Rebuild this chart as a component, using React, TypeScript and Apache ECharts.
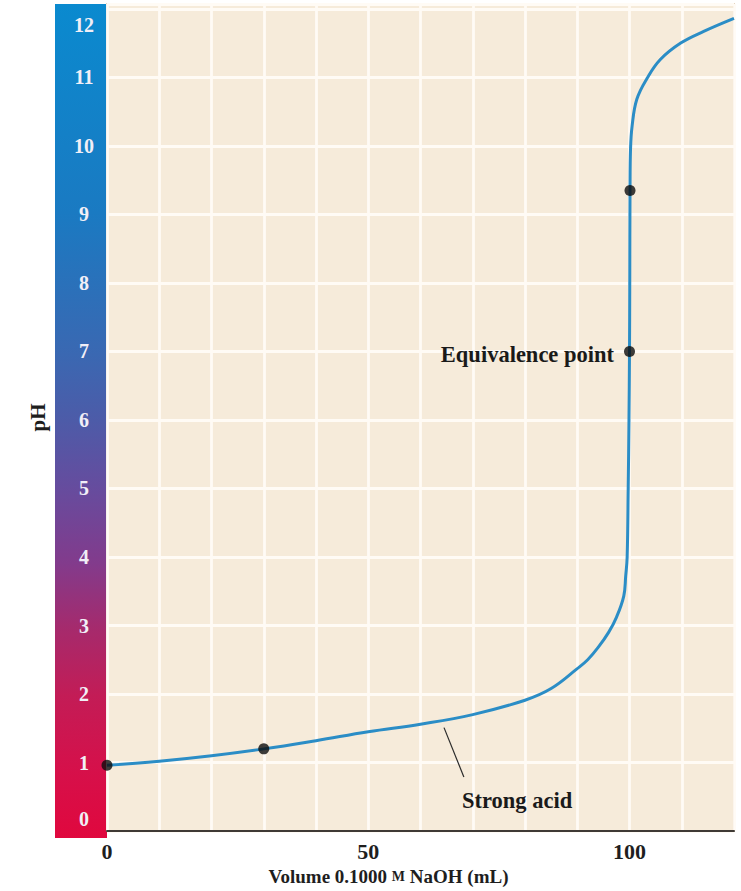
import React, { useEffect, useRef } from "react";
import * as echarts from "echarts";

// ---- Data ----
const volumeML = [0, 10, 20, 30, 40, 50, 60, 70, 80, 85, 90, 92, 94, 96, 97.5, 98.9, 99.27, 99.55, 99.75, 99.9, 100, 100.05, 100.1, 100.2, 100.5, 101.4, 103.4, 105.9, 109.8, 114.2, 120];
const pHValues = [0.96, 1.02, 1.1, 1.2, 1.32, 1.45, 1.56, 1.7, 1.91, 2.08, 2.37, 2.5, 2.68, 2.9, 3.12, 3.43, 3.72, 4.0, 5.0, 6.0, 7.0, 8.0, 9.35, 9.96, 10.29, 10.68, 10.99, 11.26, 11.5, 11.67, 11.86];

const dotVolume = [0, 30, 100, 100.1];
const dotPH = [0.96, 1.2, 7.0, 9.35];

const xTickLabels = [0, 50, 100];
const yTickLabels = [0, 1, 2, 3, 4, 5, 6, 7, 8, 9, 10, 11, 12];

const leaderFrom = [64.5, 1.51];
const leaderTo = [68.3, 0.79];

const FONT = '"Liberation Serif", "Times New Roman", serif';

export default function App() {
  const ref = useRef<HTMLDivElement | null>(null);

  useEffect(() => {
    if (!ref.current) return;
    const chart = echarts.init(ref.current, null, { renderer: "svg" });

    const labelBase = {
      color: "#f1eff7",
      fontFamily: FONT,
      fontWeight: "bold" as const,
      fontSize: 20,
    };

    const option: any = {
      animation: false,
      backgroundColor: "#ffffff",
      grid: {
        left: 107,
        right: 7,
        top: 4,
        bottom: 54,
        show: true,
        backgroundColor: "#f6ebda",
        borderColor: "#cfb28e",
        borderWidth: 1.5,
      },
      xAxis: {
        type: "value",
        min: 0,
        max: 120,
        interval: 10,
        axisLine: { show: true, lineStyle: { color: "#3f3a35", width: 2 } },
        axisTick: { show: false },
        splitLine: { show: true, lineStyle: { color: "#fffbf5", width: 2.8 } },
        axisLabel: {
          formatter: (v: number) => (xTickLabels.includes(v) ? String(v) : ""),
          color: "#1e1e1e",
          fontFamily: FONT,
          fontWeight: "bold",
          fontSize: 22,
          margin: 9,
        },
        name: "{t|Volume 0.1000 }{sc|M}{t| NaOH (mL)}",
        nameLocation: "middle",
        nameGap: 29,
        nameTextStyle: {
          padding: [0, 64, 0, 0],
          rich: {
            t: { fontFamily: FONT, fontWeight: "bold", fontSize: 19, color: "#1e1e1e" },
            sc: { fontFamily: FONT, fontWeight: "bold", fontSize: 14, color: "#1e1e1e" },
          },
        },
      },
      yAxis: {
        type: "value",
        min: 0,
        max: 12.07,
        interval: 1,
        axisLine: { show: false },
        axisTick: { show: false },
        splitLine: { show: true, lineStyle: { color: "#fffbf5", width: 2.8 } },
        axisLabel: {
          formatter: (v: number) => {
            if (!yTickLabels.includes(v)) return "";
            if (v === 0) return "{lo|0}";
            if (v === 12) return "{hi|12}";
            return "{n|" + v + "}";
          },
          align: "center",
          margin: 23,
          rich: {
            n: { ...labelBase },
            lo: { ...labelBase, padding: [0, 0, 24, 0] },
            hi: { ...labelBase, padding: [32, 0, 0, 0] },
          },
        },
        name: "pH",
        nameLocation: "middle",
        nameRotate: 90,
        nameGap: 59,
        nameTextStyle: {
          fontFamily: FONT,
          fontWeight: "bold",
          fontSize: 21,
          color: "#1e1e1e",
        },
      },
      graphic: [
        {
          type: "rect",
          z: -1,
          shape: { x: 55, y: 4, width: 52, height: 834 },
          style: {
            fill: new echarts.graphic.LinearGradient(0, 0, 0, 1, [
              { offset: 0, color: "#0a8acf" },
              { offset: 0.25, color: "#1a7ac2" },
              { offset: 0.42, color: "#3a68b2" },
              { offset: 0.5, color: "#4d5ba8" },
              { offset: 0.58, color: "#664c9e" },
              { offset: 0.67, color: "#823b8c" },
              { offset: 0.75, color: "#a62a6c" },
              { offset: 0.83, color: "#c31c56" },
              { offset: 0.92, color: "#d6104a" },
              { offset: 1, color: "#e0083e" },
            ]),
          },
        },
        {
          type: "text",
          x: 614,
          y: 354,
          z: 10,
          style: {
            text: "Equivalence point",
            fontFamily: FONT,
            fontWeight: "bold",
            fontSize: 22.5,
            fill: "#1a1a1a",
            align: "right",
            verticalAlign: "middle",
          },
        },
        {
          type: "text",
          x: 462,
          y: 800,
          z: 10,
          style: {
            text: "Strong acid",
            fontFamily: FONT,
            fontWeight: "bold",
            fontSize: 22.5,
            fill: "#1a1a1a",
            align: "left",
            verticalAlign: "middle",
          },
        },
      ],
      series: [
        {
          type: "line",
          data: volumeML.map((v, i) => [v, pHValues[i]]),
          smooth: 0.4,
          showSymbol: false,
          lineStyle: { color: "#2b8dc6", width: 3 },
          markLine: {
            silent: true,
            symbol: ["none", "none"],
            label: { show: false },
            lineStyle: { color: "#2a2a2a", width: 1.2, type: "solid" },
            data: [[{ coord: leaderFrom }, { coord: leaderTo }]],
          },
          z: 3,
        },
        {
          type: "scatter",
          data: dotVolume.map((v, i) => [v, dotPH[i]]),
          symbolSize: 11,
          itemStyle: { color: "#0d0d0d" },
          z: 5,
        },
      ],
    };

    chart.setOption(option);
    return () => chart.dispose();
  }, []);

  return (
    <div
      ref={ref}
      style={{ position: "fixed", left: 0, top: 0, width: 741, height: 891 }}
    />
  );
}
